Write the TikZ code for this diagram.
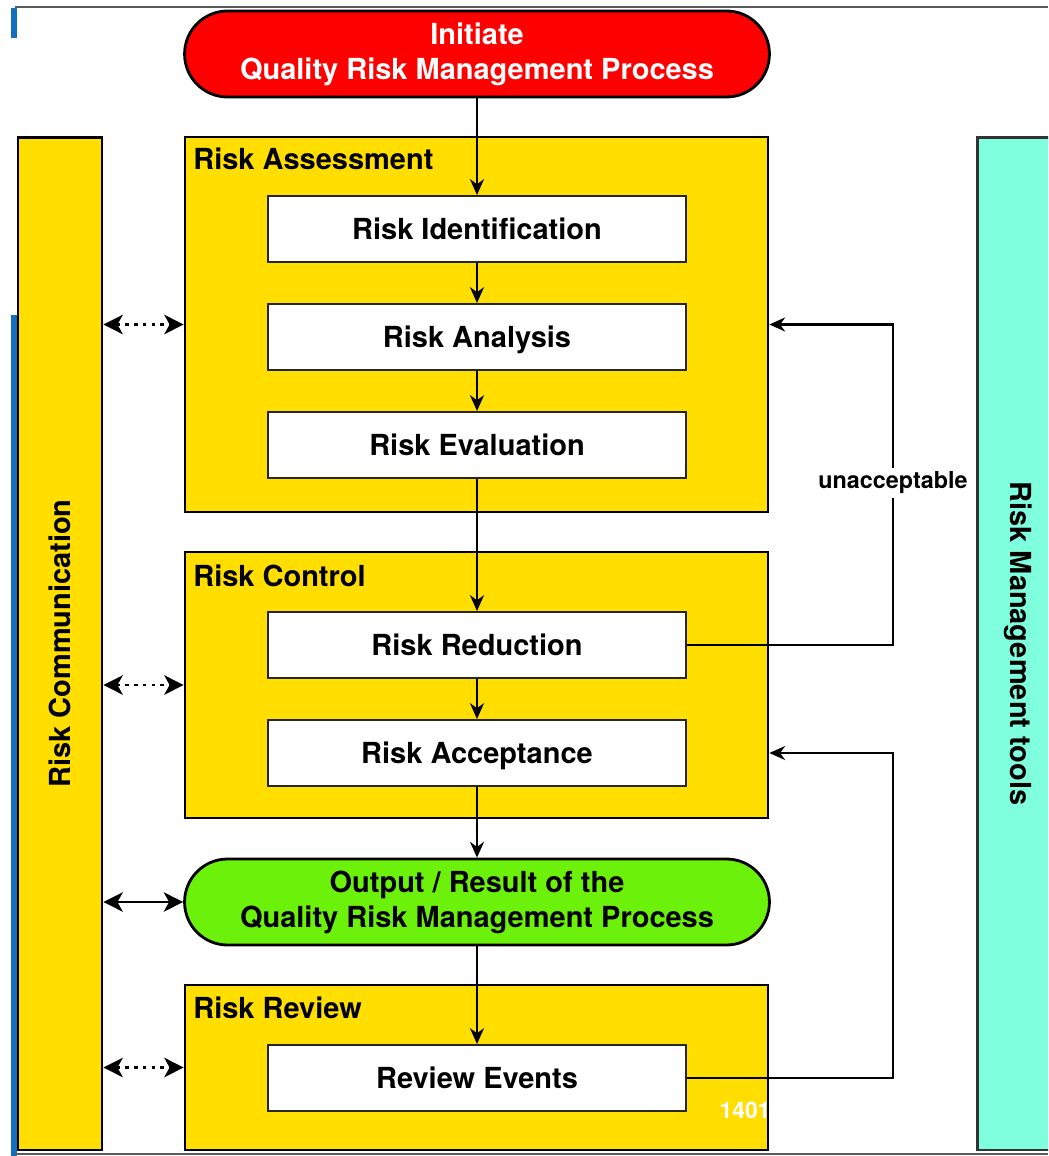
\documentclass[tikz,border=0pt]{standalone}
\usepackage{fontspec}
\setmainfont{TeX Gyre Heros}
\usetikzlibrary{arrows.meta}
\definecolor{riskyellow}{RGB}{255,222,0}
\definecolor{riskred}{RGB}{255,0,0}
\definecolor{riskgreen}{RGB}{108,242,10}
\definecolor{toolcyan}{RGB}{128,255,222}
\definecolor{slideblue}{RGB}{20,110,190}
\begin{document}
\begin{tikzpicture}[x=0.02cm,y=-0.02cm,
  bigfont/.style={font=\bfseries\fontsize{16.5}{20}\selectfont},
  panel/.style={draw=black,line width=1.6pt,fill=riskyellow,inner sep=0pt},
  stepbox/.style={bigfont,draw=black!85,line width=1.2pt,fill=white,minimum width=8.36cm,minimum height=1.32cm,text height=11.9pt,text depth=0pt},
  pill/.style={bigfont,draw=black,line width=1.6pt,rounded corners=0.86cm,minimum width=11.7cm,minimum height=1.72cm,align=center},
  title/.style={bigfont,anchor=north west,inner sep=0pt},
  flow/.style={line width=1.3pt,-{Stealth[length=9pt,width=8pt]}},
  talk/.style={line width=1.6pt,{Stealth[length=11pt,width=11pt,inset=3pt]}-{Stealth[length=11pt,width=11pt,inset=3pt]}},
  whisper/.style={talk,dash pattern=on 2pt off 3pt}]
\useasboundingbox (0,0) rectangle (1048,1156);
\clip (0,0) rectangle (1048,1156);

\fill[slideblue] (11,8) rectangle (17,38);
\fill[slideblue] (11,315) rectangle (17,1156);
\draw[black!65,line width=1.6pt] (15,7) -- (1048,7);
\draw[black!65,line width=1.6pt] (15,1154) -- (1048,1154);

\node[pill,fill=riskred,text=white] (init) at (477,54) {Initiate\\Quality Risk Management Process};

\node[panel,minimum width=1.68cm,minimum height=20.26cm] (comm) at (60,643.5) {};
\node[bigfont,rotate=90] (commtext) at (comm) {Risk Communication};
\node[panel,fill=toolcyan,draw=black!80,minimum width=1.9cm,minimum height=20.26cm] (tools) at (1025,643.5) {};
\node[bigfont,rotate=-90] (toolstext) at (1018,643.5) {Risk Management tools};

\node[panel,minimum width=11.66cm,minimum height=7.5cm] (assess) at (476.5,324.5) {};
\node[title] (assesstitle) at (193,148) {Risk Assessment};
\node[panel,minimum width=11.66cm,minimum height=5.32cm] (control) at (476.5,685) {};
\node[title] (controltitle) at (193,565) {Risk Control};
\node[panel,minimum width=11.66cm,minimum height=3.3cm] (review) at (476.5,1067.5) {};
\node[title] (reviewtitle) at (193,997) {Risk Review};

\node[stepbox] (ident) at (477,229) {Risk Identification};
\node[stepbox] (analysis) at (477,337) {Risk Analysis};
\node[stepbox] (evalu) at (477,445) {Risk Evaluation};
\node[stepbox] (reduct) at (477,645) {Risk Reduction};
\node[stepbox] (accept) at (477,753) {Risk Acceptance};
\node[stepbox] (events) at (477,1078) {Review Events};

\node[pill,fill=riskgreen] (output) at (477,902) {Output / Result of the\\Quality Risk Management Process};

\draw[flow] (init) -- (ident);
\draw[flow] (ident) -- (analysis);
\draw[flow] (analysis) -- (evalu);
\draw[flow] (evalu) -- (reduct);
\draw[flow] (reduct) -- (accept);
\draw[flow] (accept) -- (output);
\draw[flow] (output) -- (events);

\coordinate (loop) at (893,0);
\draw[flow] (reduct.east) -- (reduct.east -| loop) |- (assess.east);
\draw[flow] (events.east) -- (events.east -| loop) |- (accept.east -| control.east);
\node[fill=white,inner sep=2pt,font=\bfseries\fontsize{13.3}{15}\selectfont] (unacc) at (893,483) {unacceptable};

\draw[whisper] (comm.east |- assess.east) -- (assess.west);
\draw[whisper] (comm.east |- control.west) -- (control.west);
\draw[talk] (comm.east |- output.west) -- (output.west);
\draw[whisper] (comm.east |- review.west) -- (review.west);

\node[text=white,font=\bfseries\fontsize{13}{15}\selectfont] (year) at (745,1110) {1401};
\end{tikzpicture}
\end{document}
